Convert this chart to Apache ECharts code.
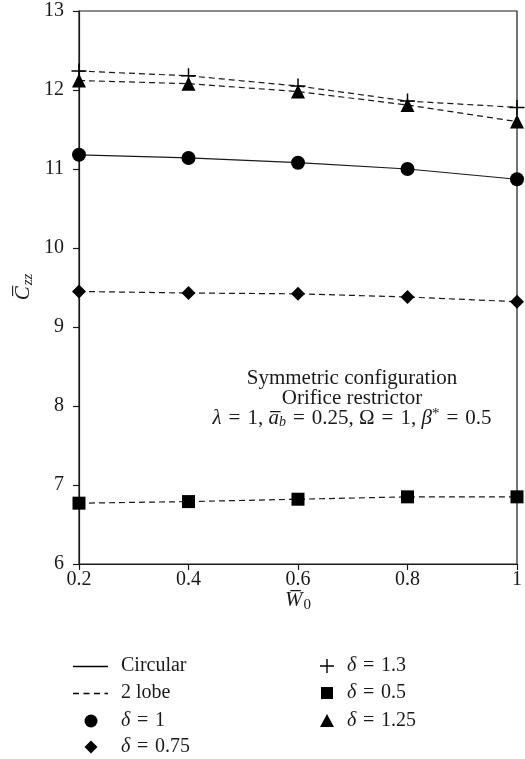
<!DOCTYPE html>
<html>
<head>
<meta charset="utf-8">
<script src="https://cdn.jsdelivr.net/npm/echarts@6/dist/echarts.min.js"></script>
<style>
html,body{margin:0;padding:0;background:#fff;}
#chart{width:525px;height:759px;}
</style>
</head>
<body>
<div id="chart"></div>
<script>
// ---- data ----
var xValues = [0.2, 0.4, 0.6, 0.8, 1.0];
var circularDelta1 = [11.18, 11.14, 11.08, 11.00, 10.87];   // solid, circle
var lobeDelta13 = [12.24, 12.18, 12.05, 11.86, 11.78];      // dashed, plus
var lobeDelta125 = [12.12, 12.08, 11.98, 11.81, 11.60];     // dashed, triangle
var lobeDelta075 = [9.45, 9.43, 9.42, 9.38, 9.32];          // dashed, diamond
var lobeDelta05 = [6.77, 6.79, 6.82, 6.85, 6.85];           // dashed, square
var yTicks = [6, 7, 8, 9, 10, 11, 12, 13];
var xTicks = [0.2, 0.4, 0.6, 0.8, 1];

function pairs(ys){ return xValues.map(function(x,i){ return [x, ys[i]]; }); }

var FONT = '"Liberation Serif", "DejaVu Serif", serif';
var INK = '#1a1a1a';
var PLUS = 'path://M-1,-10 L1,-10 L1,-1 L10,-1 L10,1 L1,1 L1,10 L-1,10 L-1,1 L-10,1 L-10,-1 L-1,-1 Z';
var DASH = [6, 4];
var SP = '\u2004';  // math-like spacing around '='

function mkSeries(name, ys, symbol, size, dashed){
  return {
    name: name, type: 'line', data: pairs(ys),
    symbol: symbol, symbolSize: size, clip: false,
    lineStyle: {color: INK, width: 1.2, type: dashed ? DASH : 'solid'},
    itemStyle: {color: '#000'},
    emphasis: {disabled: true},
    animation: false
  };
}

var chart = echarts.init(document.getElementById('chart'), null, {renderer: 'canvas'});

var LF = 20;
var legendGraphics = [];
function legText(x, y, rich){
  legendGraphics.push({type:'text', position:[x, y], style:{text:rich, textVerticalAlign:'middle', fill:INK,
    rich:{d:{fontFamily:FONT, fontStyle:'italic', fontSize:LF, fill:INK}, n:{fontFamily:FONT, fontSize:LF, fill:INK}}}});
}
// line samples
legendGraphics.push({type:'line', shape:{x1:73,y1:666.5,x2:108,y2:666.5}, style:{stroke:'#000', lineWidth:1.3}});
legendGraphics.push({type:'line', shape:{x1:73,y1:693.5,x2:108,y2:693.5}, style:{stroke:'#000', lineWidth:1.3, lineDash:[6,4.5]}});
legText(121, 666, '{n|Circular}');
legText(121, 693, '{n|2 lobe}');
legText(121, 721, '{d|δ}{n|' + SP + '=' + SP + '1}');
legText(121, 747, '{d|δ}{n|' + SP + '=' + SP + '0.75}');
legText(347, 666, '{d|δ}{n|' + SP + '=' + SP + '1.3}');
legText(347, 693, '{d|δ}{n|' + SP + '=' + SP + '0.5}');
legText(347, 721, '{d|δ}{n|' + SP + '=' + SP + '1.25}');
// marker samples
legendGraphics.push({type:'circle', shape:{cx:91, cy:721, r:6.5}, style:{fill:'#000'}});
legendGraphics.push({type:'polygon', shape:{points:[[91,740.5],[97.5,747],[91,753.5],[84.5,747]]}, style:{fill:'#000'}});
legendGraphics.push({type:'polygon', shape:{points:[[326.3,659],[327.7,659],[327.7,665.3],[334,665.3],[334,666.7],[327.7,666.7],[327.7,673],[326.3,673],[326.3,666.7],[320,666.7],[320,665.3],[326.3,665.3]]}, style:{fill:'#000'}});
legendGraphics.push({type:'rect', shape:{x:321, y:687, width:12, height:12}, style:{fill:'#000'}});
legendGraphics.push({type:'polygon', shape:{points:[[327,714],[334,727],[320,727]]}, style:{fill:'#000'}});

// annotation
var AF = 21;
var annotGraphics = [
  {type:'text', position:[352, 378], style:{text:'Symmetric configuration', font:AF+'px '+FONT, fill:INK, textAlign:'center', textVerticalAlign:'middle'}},
  {type:'text', position:[352, 398], style:{text:'Orifice restrictor', font:AF+'px '+FONT, fill:INK, textAlign:'center', textVerticalAlign:'middle'}},
  {type:'text', position:[352, 418], style:{
    text:'{i|λ}{n|' + SP + '=' + SP + '1, }{i|a\u0305}{sb|b}{n|' + SP + '=' + SP + '0.25, Ω' + SP + '=' + SP + '1, }{i|β}{sp|*}{n|' + SP + '=' + SP + '0.5}',
    fill:INK, textAlign:'center', textVerticalAlign:'middle',
    rich:{
      n:{fontFamily:FONT, fontSize:AF, fill:INK},
      i:{fontFamily:FONT, fontSize:AF, fontStyle:'italic', fill:INK},
      sb:{fontFamily:FONT, fontSize:14, fontStyle:'italic', fill:INK, padding:[9,0,0,0]},
      sp:{fontFamily:FONT, fontSize:15, fill:INK, padding:[0,0,8,0]}
    }}}
];

// axis titles
var axisTitleGraphics = [
  {type:'text', position:[298, 600], style:{
    text:'{i|W\u0305}{s|0}', textAlign:'center', textVerticalAlign:'middle',
    rich:{ i:{fontFamily:FONT, fontSize:21, fontStyle:'italic', fill:INK},
           s:{fontFamily:FONT, fontSize:15, fill:INK, padding:[10,0,0,1]} }}},
  {type:'text', position:[23, 287], rotation:Math.PI/2, style:{
    text:'{i|C\u0305}{s|zz}', textAlign:'center', textVerticalAlign:'middle',
    rich:{ i:{fontFamily:FONT, fontSize:21, fontStyle:'italic', fill:INK},
           s:{fontFamily:FONT, fontSize:15, fontStyle:'italic', fill:INK, padding:[10,0,0,1]} }}}
];

var option = {
  backgroundColor: '#fff',
  animation: false,
  grid: {left: 79, right: 7, top: 11, bottom: 195, show: true, borderColor: INK, borderWidth: 1.2, backgroundColor: 'transparent'},
  xAxis: {
    type: 'value', min: xTicks[0], max: xTicks[xTicks.length-1], interval: 0.2,
    axisLine: {show: true, lineStyle: {color: INK, width: 1.2}},
    axisTick: {show: true, length: 6, inside: false, lineStyle: {color: INK, width: 1.2}},
    splitLine: {show: false},
    axisLabel: {margin: 6, color: INK, fontFamily: FONT, fontSize: 20,
      formatter: function(v){ var r = Math.round(v*10)/10; return String(r); }}
  },
  yAxis: {
    type: 'value', min: yTicks[0], max: yTicks[yTicks.length-1], interval: 1,
    axisLine: {show: true, lineStyle: {color: INK, width: 1.2}},
    axisTick: {show: true, length: 6, inside: false, lineStyle: {color: INK, width: 1.2}},
    splitLine: {show: false},
    axisLabel: {margin: 15, color: INK, fontFamily: FONT, fontSize: 20}
  },
  series: [
    mkSeries('δ = 1', circularDelta1, 'circle', 14, false),
    mkSeries('δ = 1.3', lobeDelta13, PLUS, 15, true),
    mkSeries('δ = 1.25', lobeDelta125, 'triangle', 14, true),
    mkSeries('δ = 0.75', lobeDelta075, 'diamond', 14, true),
    mkSeries('δ = 0.5', lobeDelta05, 'rect', 13, true)
  ],
  graphic: legendGraphics.concat(annotGraphics).concat(axisTitleGraphics)
};
chart.setOption(option);
</script>
</body>
</html>
